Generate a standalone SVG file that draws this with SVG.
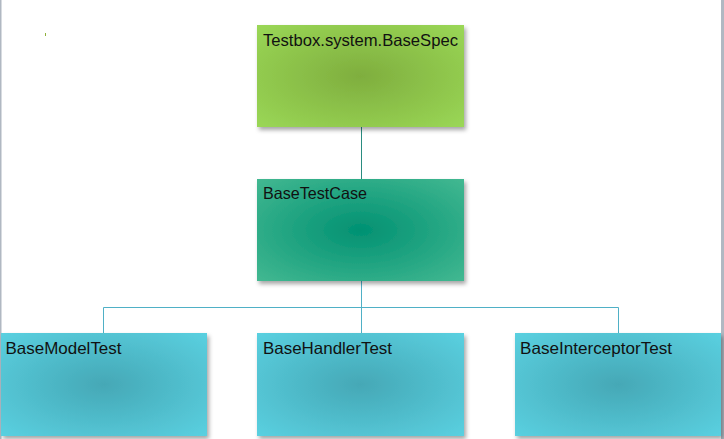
<svg xmlns="http://www.w3.org/2000/svg" width="724" height="439" viewBox="0 0 724 439">
<style>
.lbl{font-family:"Futura","Century Gothic","URW Gothic","Liberation Sans",sans-serif;font-size:16.5px;fill:#111;}
.c1{stroke:#2a8c80;stroke-width:1;fill:none;}
.c2{stroke:#4fb0c6;stroke-width:1;fill:none;}
</style>
<defs>
<filter id="sh" x="-10%" y="-10%" width="125%" height="130%">
<feDropShadow dx="2" dy="3" stdDeviation="2" flood-color="#000" flood-opacity="0.35"/>
</filter>
<radialGradient id="gGreen" cx="0.5" cy="0.5" r="0.7">
<stop offset="0" stop-color="#7fae3e"/>
<stop offset="1" stop-color="#9ad756"/>
</radialGradient>
<radialGradient id="gTeal" cx="0.5" cy="0.5" r="0.7">
<stop offset="0" stop-color="#019172"/>
<stop offset="1" stop-color="#42b891"/>
</radialGradient>
<radialGradient id="gBlue" cx="0.5" cy="0.5" r="0.7">
<stop offset="0" stop-color="#45a8b6"/>
<stop offset="1" stop-color="#5ad0e0"/>
</radialGradient>
</defs>
<rect x="0" y="0" width="724" height="439" fill="#fff"/>
<rect x="0" y="0" width="1.5" height="439" fill="#b0b8c2"/>
<rect x="721" y="0" width="3" height="439" fill="#b0b8c2"/>
<rect x="45" y="33" width="1" height="3" fill="#8fb03a"/>
<g id="connectors">
<line class="c1" x1="361.5" y1="127" x2="361.5" y2="179"/>
<line class="c2" x1="361.5" y1="281" x2="361.5" y2="333"/>
<polyline class="c2" points="103.5,333 103.5,307.5 618.5,307.5 618.5,333"/>
</g>
<g id="n_basespec">
<rect x="257" y="25" width="207" height="102" fill="url(#gGreen)" filter="url(#sh)"/>
<text class="lbl" x="263" y="46" textLength="195" lengthAdjust="spacingAndGlyphs">Testbox.system.BaseSpec</text>
</g>
<g id="n_basetestcase">
<rect x="257" y="179" width="207" height="102" fill="url(#gTeal)" filter="url(#sh)"/>
<text class="lbl" x="263" y="199" textLength="104" lengthAdjust="spacingAndGlyphs">BaseTestCase</text>
</g>
<g id="n_basemodeltest">
<rect x="1" y="333" width="206" height="103" fill="url(#gBlue)" filter="url(#sh)"/>
<text class="lbl" x="5.5" y="354" textLength="116" lengthAdjust="spacingAndGlyphs">BaseModelTest</text>
</g>
<g id="n_basehandlertest">
<rect x="257" y="333" width="207" height="103" fill="url(#gBlue)" filter="url(#sh)"/>
<text class="lbl" x="263" y="354" textLength="129" lengthAdjust="spacingAndGlyphs">BaseHandlerTest</text>
</g>
<g id="n_baseinterceptortest">
<rect x="515" y="333" width="206" height="103" fill="url(#gBlue)" filter="url(#sh)"/>
<text class="lbl" x="520" y="354" textLength="152" lengthAdjust="spacingAndGlyphs">BaseInterceptorTest</text>
</g>
</svg>
